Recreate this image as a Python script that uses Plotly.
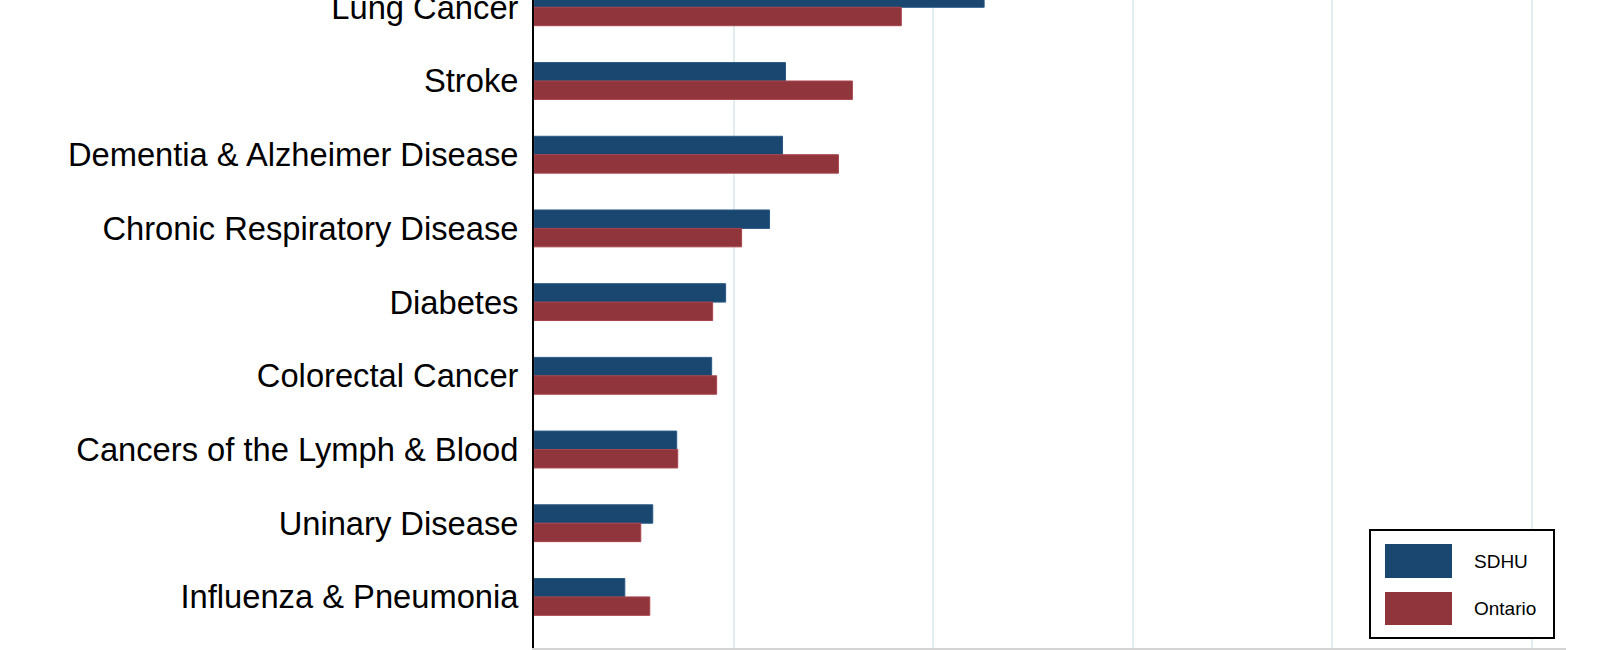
import plotly.graph_objects as go

categories = [
    "Lung Cancer",
    "Stroke",
    "Dementia & Alzheimer Disease",
    "Chronic Respiratory Disease",
    "Diabetes",
    "Colorectal Cancer",
    "Cancers of the Lymph & Blood",
    "Uninary Disease",
    "Influenza & Pneumonia",
]
sdhu = [45.1, 25.2, 24.9, 23.6, 19.2, 17.8, 14.3, 11.9, 9.1]
ontario = [36.8, 31.9, 30.5, 20.8, 17.9, 18.3, 14.4, 10.7, 11.6]
series_names = ["SDHU", "Ontario"]
colors = ["#1a476f", "#90353b"]
line_colors = ["#2a5a85", "#a8454c"]

W, H = 1600, 650
L, R, T, B = 534, 34, 0, 2
pw, ph = W - L - R, H - T - B

fig = go.Figure()
for name, vals, c, lc in zip(series_names, [sdhu, ontario], colors, line_colors):
    fig.add_trace(go.Bar(
        y=categories, x=vals, orientation="h", name=name,
        marker=dict(color=c, line=dict(color=lc, width=1)),
        showlegend=False,
    ))

# custom legend (large swatches like the reference)
def px_x(p):
    return (p - L) / pw

def px_y(p):
    return (H - B - p) / ph

shapes = [
    dict(type="rect", xref="paper", yref="paper",
         x0=px_x(1370), x1=px_x(1554), y0=px_y(638), y1=px_y(530),
         line=dict(color="black", width=2), fillcolor="white", layer="above"),
]
annotations = []
sw = [(544, 578), (592, 625)]
for (y0, y1), name, c in zip(sw, series_names, colors):
    shapes.append(dict(type="rect", xref="paper", yref="paper",
                       x0=px_x(1385), x1=px_x(1452), y0=px_y(y1), y1=px_y(y0),
                       line=dict(width=0), fillcolor=c, layer="above"))
    annotations.append(dict(xref="paper", yref="paper", x=px_x(1472), y=px_y((y0 + y1) / 2),
                            text=name, showarrow=False, xanchor="left", yanchor="middle",
                            font=dict(family="Liberation Sans, Arial, sans-serif", size=19, color="black")))

fig.update_layout(
    width=W, height=H,
    margin=dict(l=L, r=R, t=T, b=B, pad=0),
    barmode="group", bargap=0.5, bargroupgap=0,
    plot_bgcolor="white", paper_bgcolor="white",
    font=dict(family="Liberation Sans, Arial, sans-serif", color="black"),
    shapes=shapes, annotations=annotations,
    xaxis=dict(range=[0, 103.4], dtick=20, showgrid=True, gridcolor="#e2edf0", gridwidth=2,
               zeroline=False, showticklabels=False, ticks="",
               showline=True, linecolor="#d4d4d4", linewidth=2),
    yaxis=dict(categoryorder="array", categoryarray=categories,
               range=[8.693, -0.099], showgrid=False, zeroline=False,
               showline=True, linecolor="black", linewidth=2,
               ticks="", ticklabelstandoff=7, automargin=False,
               tickfont=dict(family="Liberation Sans, Arial, sans-serif", size=32.7, color="black")),
)

fig.write_html("out.html", config={"displayModeBar": False},
               post_script="document.body.style.margin='0';")
